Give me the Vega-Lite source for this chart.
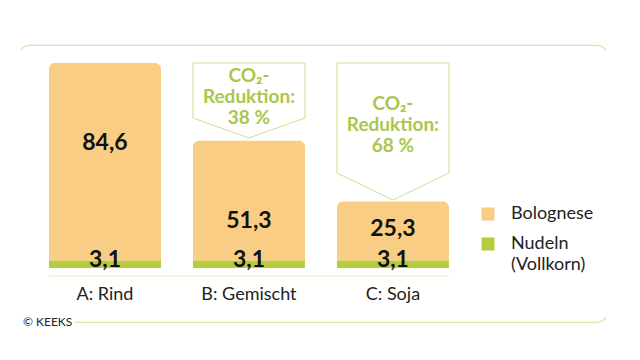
{
  "$schema": "https://vega.github.io/schema/vega-lite/v6.json",
  "width": 590,
  "height": 277,
  "padding": {"left": 18, "top": 45, "right": 0, "bottom": 0},
  "autosize": {"type": "pad"},
  "background": "white",
  "title": {"text": "© KEEKS", "orient": "bottom", "anchor": "start", "fontSize": 12, "font": "Lato", "fontWeight": "normal", "color": "#222222", "offset": 0, "baseline": "middle", "dx": 5},
  "config": {
    "font": "Lato",
    "locale": {"number": {"decimal": ",", "thousands": ".", "grouping": [3], "currency": ["", " €"]}},
    "view": {"stroke": "#d9e7a5", "strokeWidth": 1.2, "cornerRadius": 12, "strokeDash": [577.3, 268, 533.3, 323.35]},
    "style": {"guide-label": {"lineHeight": 21}}
  },
  "datasets": {
    "bars": [
      {"meal": "A: Rind", "part": "Bolognese", "value": 84.6},
      {"meal": "A: Rind", "part": "Nudeln (Vollkorn)", "value": 3.1},
      {"meal": "B: Gemischt", "part": "Bolognese", "value": 51.3},
      {"meal": "B: Gemischt", "part": "Nudeln (Vollkorn)", "value": 3.1},
      {"meal": "C: Soja", "part": "Bolognese", "value": 25.3},
      {"meal": "C: Soja", "part": "Nudeln (Vollkorn)", "value": 3.1}
    ],
    "callouts": [
      {"meal": "B: Gemischt", "reduction": 38},
      {"meal": "C: Soja", "reduction": 68}
    ]
  },
  "layer": [
    {
      "data": {"name": "bars"},
      "transform": [
        {"stack": "value", "groupby": ["meal"], "sort": [{"field": "part", "order": "descending"}], "as": ["y0", "y1"]},
        {"filter": "datum.part == 'Bolognese'"}
      ],
      "mark": {"type": "bar", "cornerRadiusTopLeft": 6, "cornerRadiusTopRight": 6},
      "encoding": {
        "x": {"field": "meal", "type": "nominal", "title": null,
          "scale": {"domain": ["A: Rind", "B: Gemischt", "C: Soja"], "paddingInner": 0.222, "paddingOuter": 0.66, "align": 0.163},
          "axis": {"orient": "bottom", "offset": -46, "domain": false, "ticks": false, "labelAngle": 0, "labelFont": "Lato", "labelFontSize": 18, "labelColor": "#222222", "labelPadding": 9}},
        "y": {"field": "y1", "type": "quantitative", "scale": {"domain": [-23.1, 95.4], "nice": false, "zero": false}, "axis": null},
        "y2": {"field": "y0"},
        "color": {"field": "part", "type": "nominal",
          "scale": {"domain": ["Bolognese", "Nudeln (Vollkorn)"], "range": ["#f9cd83", "#b5cd3c"]},
          "legend": {"title": null, "orient": "none", "legendX": 461, "legendY": 160, "symbolType": "square", "symbolSize": 169, "symbolStrokeWidth": 0, "labelFont": "Lato", "labelFontSize": 18, "labelColor": "#222222", "labelOffset": 14, "rowPadding": 12, "padding": 0, "labelLimit": 200,
            "labelExpr": "datum.label == 'Nudeln (Vollkorn)' ? ['Nudeln', '(Vollkorn)'] : datum.label"}}
      }
    },
    {
      "data": {"name": "bars"},
      "transform": [
        {"stack": "value", "groupby": ["meal"], "sort": [{"field": "part", "order": "descending"}], "as": ["y0", "y1"]},
        {"filter": "datum.part != 'Bolognese'"}
      ],
      "mark": {"type": "bar"},
      "encoding": {
        "x": {"field": "meal", "type": "nominal"},
        "y": {"field": "y1", "type": "quantitative"},
        "y2": {"field": "y0"},
        "color": {"field": "part", "type": "nominal"}
      }
    },
    {
      "data": {"values": [{}]},
      "mark": {"type": "rule", "color": "#dfeab8", "strokeWidth": 1.2},
      "encoding": {
        "x": {"datum": "A: Rind", "bandPosition": 0},
        "x2": {"datum": "C: Soja", "bandPosition": 1},
        "y": {"datum": -3.42, "type": "quantitative"}
      }
    },
    {
      "data": {"name": "callouts"},
      "mark": {"type": "point", "filled": false, "stroke": "#cfe08f", "strokeWidth": 1, "fill": "white", "fillOpacity": 0, "opacity": 1, "size": 12544},
      "encoding": {
        "x": {"field": "meal", "type": "nominal"},
        "y": {"datum": 87.7, "type": "quantitative"},
        "shape": {"field": "meal", "type": "nominal", "legend": null,
          "scale": {"domain": ["B: Gemischt", "C: Soja"], "range": ["M-1,0L1,0L1,0.982L0,1.339L-1,0.982Z", "M-1,0L1,0L1,1.964L0,2.446L-1,1.964Z"]}}
      }
    },
    {
      "data": {"name": "callouts"},
      "transform": [
        {"calculate": "['CO₂-', 'Reduktion:', datum.reduction + ' %']", "as": "lbl"},
        {"filter": "datum.meal == 'B: Gemischt'"}
      ],
      "mark": {"type": "text", "font": "Lato", "fontWeight": "bold", "fontSize": 19, "lineHeight": 21, "color": "#a9c74b", "baseline": "middle", "dy": 13},
      "encoding": {
        "x": {"field": "meal", "type": "nominal"},
        "y": {"datum": 87.7, "type": "quantitative"},
        "text": {"field": "lbl"}
      }
    },
    {
      "data": {"name": "callouts"},
      "transform": [
        {"calculate": "['CO₂-', 'Reduktion:', datum.reduction + ' %']", "as": "lbl"},
        {"filter": "datum.meal == 'C: Soja'"}
      ],
      "mark": {"type": "text", "font": "Lato", "fontWeight": "bold", "fontSize": 19, "lineHeight": 21, "color": "#a9c74b", "baseline": "middle", "dy": 41.5},
      "encoding": {
        "x": {"field": "meal", "type": "nominal"},
        "y": {"datum": 87.7, "type": "quantitative"},
        "text": {"field": "lbl"}
      }
    },
    {
      "data": {"name": "bars"},
      "transform": [
        {"stack": "value", "groupby": ["meal"], "sort": [{"field": "part", "order": "descending"}], "as": ["y0", "y1"]},
        {"filter": "datum.part == 'Bolognese' && datum.meal != 'C: Soja'"}
      ],
      "mark": {"type": "text", "font": "Lato", "fontWeight": "bold", "fontSize": 23, "color": "#111111", "baseline": "middle", "dy": 80},
      "encoding": {
        "x": {"field": "meal", "type": "nominal"},
        "y": {"field": "y1", "type": "quantitative"},
        "text": {"field": "value", "type": "quantitative", "format": ".1f"}
      }
    },
    {
      "data": {"name": "bars"},
      "transform": [
        {"stack": "value", "groupby": ["meal"], "sort": [{"field": "part", "order": "descending"}], "as": ["y0", "y1"]},
        {"filter": "datum.part == 'Bolognese' && datum.meal == 'C: Soja'"}
      ],
      "mark": {"type": "text", "font": "Lato", "fontWeight": "bold", "fontSize": 23, "color": "#111111", "baseline": "middle", "dy": 27},
      "encoding": {
        "x": {"field": "meal", "type": "nominal"},
        "y": {"field": "y1", "type": "quantitative"},
        "text": {"field": "value", "type": "quantitative", "format": ".1f"}
      }
    },
    {
      "data": {"name": "bars"},
      "transform": [
        {"filter": "datum.part != 'Bolognese'"}
      ],
      "mark": {"type": "text", "font": "Lato", "fontWeight": "bold", "fontSize": 23, "color": "#111111", "baseline": "alphabetic", "dy": -1},
      "encoding": {
        "x": {"field": "meal", "type": "nominal"},
        "y": {"datum": 0, "type": "quantitative"},
        "text": {"field": "value", "type": "quantitative", "format": ".1f"}
      }
    }
  ]
}
